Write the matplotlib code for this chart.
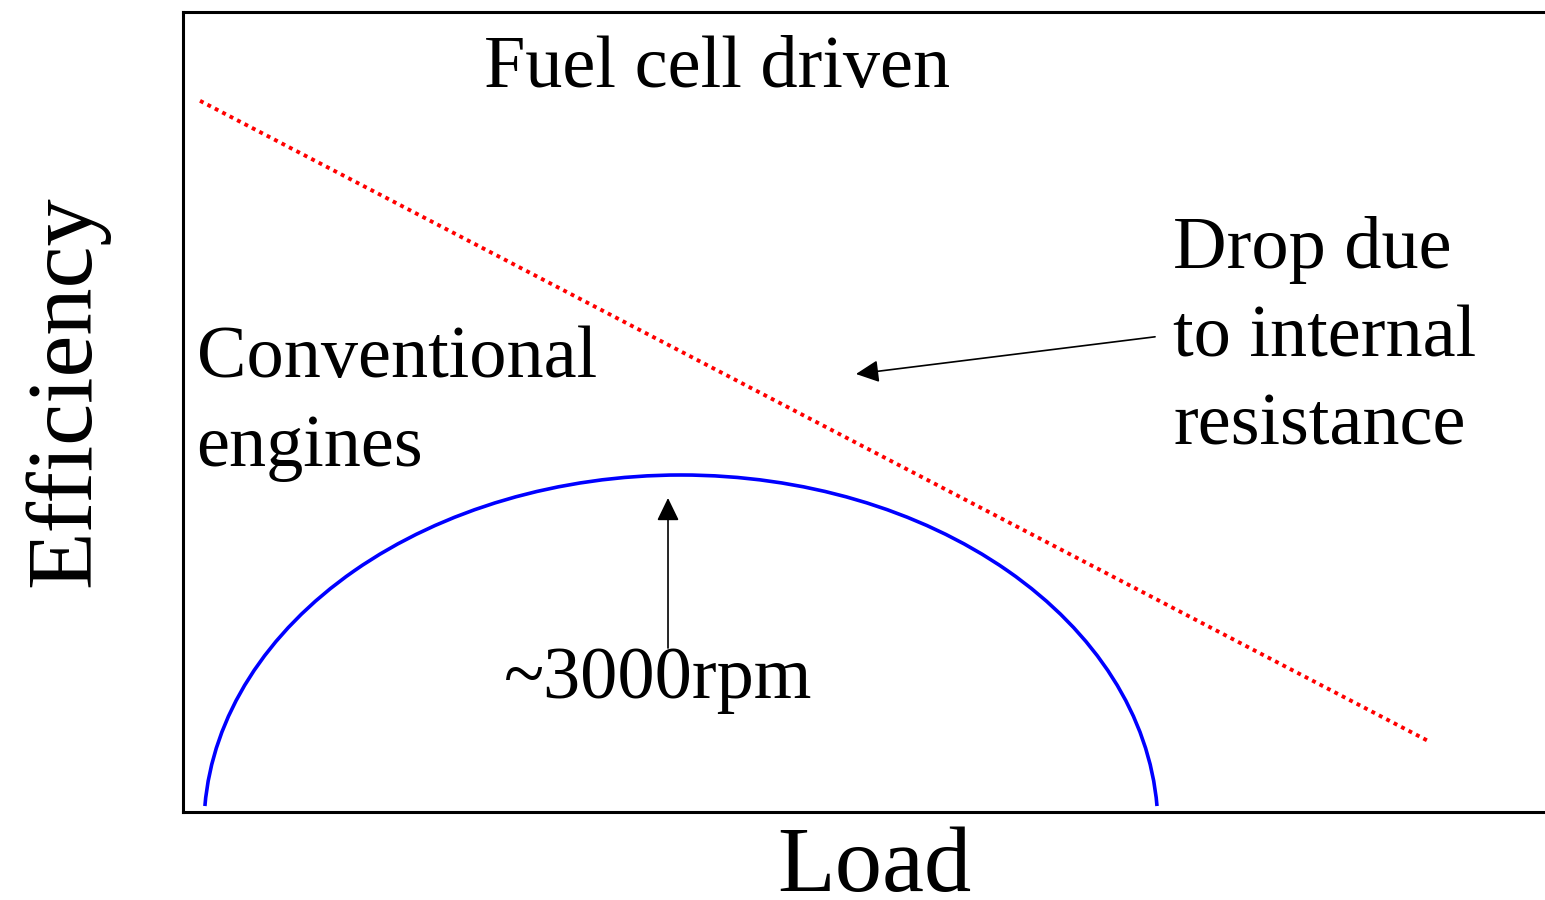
import numpy as np
import matplotlib.pyplot as plt
from matplotlib.patches import Arc

# schematic: efficiency vs load, both axes on a 0-100 scale
fuel_cell_load = [1.25, 91.4]
fuel_cell_eff = [88.9, 8.9]

# conventional engine curve (elliptical arc)
engine_center = (36.56, -2.0)
engine_width = 70.04
engine_height = 88.25
engine_end_eff = 0.75

# annotation arrows: (tail, tip)
rpm_arrow = [(35.61, 20.5), (35.61, 39.25)]
drop_arrow = [(71.37, 59.4), (49.41, 54.75)]

fuel_cell_label = 'Fuel cell driven'
engine_label = ['Conventional', 'engines']
drop_label = ['Drop due', 'to internal', 'resistance']
rpm_label = '~3000rpm'

plt.rcParams['font.family'] = ['Liberation Serif', 'DejaVu Serif']

fig = plt.figure(figsize=(15.45, 9), dpi=100)
ax = fig.add_axes([183 / 1545, 88 / 900, 1 - 183 / 1545, 800 / 900])
ax.set_xlim(0, 100)
ax.set_ylim(0, 100)
ax.set_xticks([])
ax.set_yticks([])
for side in ['left', 'top', 'bottom']:
    ax.spines[side].set_linewidth(2.2)
ax.spines['right'].set_visible(False)

# fuel cell: linear drop
ax.plot(fuel_cell_load, fuel_cell_eff, color='#ff0000', lw=2.8,
        dashes=(1, 1.15), solid_capstyle='butt')

# engine arc, trimmed where it meets the base line
half_w = engine_width / 2
start = np.degrees(np.arctan2(engine_end_eff - engine_center[1], half_w))
ax.add_patch(Arc(engine_center, engine_width, engine_height,
                 theta1=start, theta2=180 - start,
                 color='#0000ff', lw=2.6))

arrow_style = '-|>,head_length=14,head_width=6.8'
for tail, tip in [rpm_arrow, drop_arrow]:
    ax.annotate('', xy=tip, xytext=tail,
                arrowprops=dict(arrowstyle=arrow_style, mutation_scale=1,
                                color='black', lw=1.2,
                                shrinkA=0, shrinkB=0))

fs = 53.5
ax.text(22.1, 90.6, fuel_cell_label, fontsize=fs, va='baseline')
for i, line in enumerate(engine_label):
    ax.text(1.0, 54.4 - i * 11.12, line, fontsize=fs, va='baseline')
for i, line in enumerate(drop_label):
    ax.text(72.7, 68.0 - i * 11.05, line, fontsize=fs, va='baseline')
ax.text(23.6, 14.25, rpm_label, fontsize=fs, va='baseline')

fig.text(874 / 1545, 1 - 891 / 900, 'Load', fontsize=68,
         ha='center', va='baseline')
fig.text(89 / 1545, 1 - 391 / 900, 'Efficiency', fontsize=68,
         rotation=90, rotation_mode='anchor', ha='center', va='baseline')

fig.savefig('out.png', dpi=100)
